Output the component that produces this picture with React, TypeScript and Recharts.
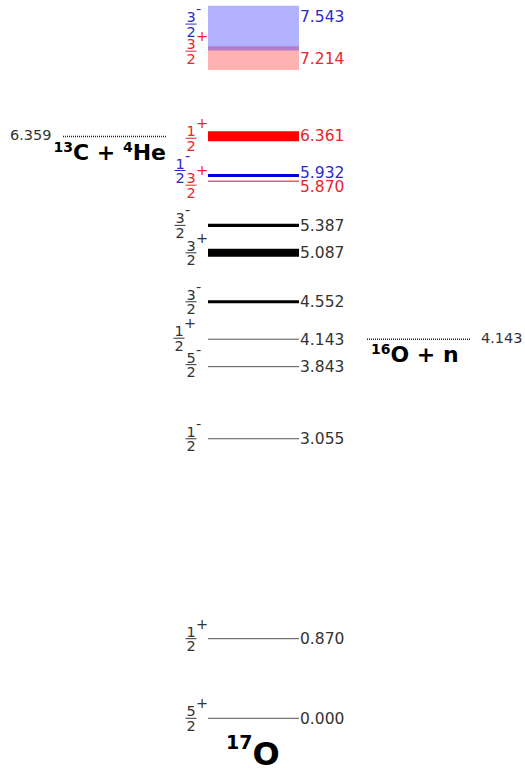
import React from "react";
import { ComposedChart, XAxis, YAxis, ReferenceArea, ReferenceLine, ReferenceDot } from "recharts";

// 17O levels (MeV), widths (MeV)
const energies = [0.0, 0.87, 3.055, 3.843, 4.143, 4.552, 5.087, 5.387, 5.87, 5.932, 6.361, 7.214, 7.543];
const widths = [0, 0, 0, 0, 0, 0.035, 0.088, 0.034, 0, 0.032, 0.11, 0.26, 0.49];
const spins = ["5/2", "1/2", "1/2", "5/2", "1/2", "3/2", "3/2", "3/2", "3/2", "1/2", "1/2", "3/2", "3/2"];
const parities = ["+", "+", "-", "-", "+", "-", "+", "-", "+", "-", "+", "+", "-"];

// particle thresholds
const thresholdEnergies = [6.359, 4.143];
const thresholdReactions = [
  [["13", "C"], ["4", "He"]],
  [["16", "O"], ["", "n"]],
];

const nucleus = ["17", "O"];

const W = 525;
const H = 772;
const FONT = "'DejaVu Sans', Verdana, sans-serif";
const LEVEL_X1 = 208;
const LEVEL_X2 = 299;

// style per level
const levelColors = ["#000", "#000", "#000", "#000", "#000", "#000", "#000", "#000", "#ff0000", "#0000dd", "#ff0000", "#ff0000", "#0000ff"];
const textColors = ["#333", "#333", "#333", "#333", "#333", "#333", "#333", "#333", "#e8262b", "#2b2bc8", "#e8262b", "#e8262b", "#2b2bc8"];
const spinX = [191, 191, 191, 191, 179, 191, 191, 180, 191, 180, 191, 191, 191];
const spinDy = [0, 0, 0, -2, -1, 0, 0, 0, 4, -5, 2, -7, -4];
const energyDy = [0, 0, 0, 0, 0, 0, 0, 0, 5, -3, -1, 0, -12];

function SpinLabel(props: any) {
  const { cx, cy, spin, parity, color } = props;
  const [num, den] = spin.split("/");
  return (
    <g fill={color} fontFamily={FONT} fontSize={14.5}>
      <text x={cx} y={cy - 2} textAnchor="middle">{num}</text>
      <line x1={cx - 5.5} x2={cx + 5.5} y1={cy} y2={cy} stroke={color} strokeWidth={1} />
      <text x={cx} y={cy + 12.5} textAnchor="middle">{den}</text>
      <text x={cx + 5} y={cy - 10}>{parity === "-" ? "-" : "+"}</text>
    </g>
  );
}

function EnergyLabel(props: any) {
  const { cx, cy, value, color, size } = props;
  return (
    <text x={cx} y={cy} dy="0.35em" fill={color} fontFamily={FONT} fontSize={size ?? 15.5}>
      {value}
    </text>
  );
}

function Reaction(props: any) {
  const { cx, cy, parts, anchor } = props;
  return (
    <text x={cx} y={cy} textAnchor={anchor} fontFamily={FONT} fontWeight="bold" fontSize={22} fill="#000" style={{ whiteSpace: "pre" }}>
      {parts.map((p: string[], i: number) => (
        <React.Fragment key={i}>
          {i > 0 && <tspan>{" + "}</tspan>}
          {p[0] && <tspan fontSize={14} dy={-8}>{p[0]}</tspan>}
          <tspan dy={p[0] ? 8 : 0}>{p[1]}</tspan>
        </React.Fragment>
      ))}
    </text>
  );
}

export default function App() {
  return (
    <div style={{ position: "absolute", left: 0, top: 0, width: W, height: H, background: "#fff" }}>
      <ComposedChart width={W} height={H} margin={{ top: 0, right: 0, bottom: 0, left: 0 }} data={[]}>
        <XAxis type="number" dataKey="x" domain={[0, W]} allowDataOverflow hide />
        <YAxis type="number" domain={[-0.587, 7.85]} allowDataOverflow hide />

        {/* levels: bands where the width shows, plain lines otherwise */}
        {energies.map((e, i) =>
          widths[i] > 0 ? (
            <ReferenceArea
              key={`a${i}`}
              x1={LEVEL_X1}
              x2={LEVEL_X2}
              y1={e - widths[i] / 2}
              y2={e + widths[i] / 2}
              fill={levelColors[i]}
              fillOpacity={widths[i] > 0.2 ? 0.3 : 1}
              stroke="none"
              ifOverflow="visible"
            />
          ) : (
            <ReferenceLine
              key={`l${i}`}
              segment={[{ x: LEVEL_X1, y: e }, { x: LEVEL_X2, y: e }]}
              stroke={i === 8 ? "#ff0000" : "#555"}
              strokeWidth={1}
              ifOverflow="visible"
            />
          )
        )}

        {energies.map((e, i) => (
          <ReferenceDot
            key={`s${i}`}
            x={spinX[i]}
            y={e}
            r={0}
            ifOverflow="visible"
            shape={(p: any) => (
              <SpinLabel cx={p.cx} cy={p.cy + spinDy[i]} spin={spins[i]} parity={parities[i]} color={textColors[i]} />
            )}
          />
        ))}

        {energies.map((e, i) => (
          <ReferenceDot
            key={`e${i}`}
            x={LEVEL_X2 + 1}
            y={e}
            r={0}
            ifOverflow="visible"
            shape={(p: any) => (
              <EnergyLabel cx={p.cx} cy={p.cy + energyDy[i]} value={e.toFixed(3)} color={textColors[i]} />
            )}
          />
        ))}

        {/* thresholds */}
        <ReferenceLine
          segment={[{ x: 63, y: thresholdEnergies[0] }, { x: 167, y: thresholdEnergies[0] }]}
          stroke="#222"
          strokeWidth={1.5}
          strokeDasharray="1 1"
        />
        <ReferenceDot
          x={10}
          y={thresholdEnergies[0]}
          r={0}
          shape={(p: any) => <EnergyLabel cx={p.cx} cy={p.cy - 2} value={thresholdEnergies[0].toFixed(3)} color="#333" size={14.5} />}
        />
        <ReferenceDot
          x={166}
          y={thresholdEnergies[0]}
          r={0}
          shape={(p: any) => <Reaction cx={p.cx} cy={p.cy + 24} parts={thresholdReactions[0]} anchor="end" />}
        />

        <ReferenceLine
          segment={[{ x: 367, y: thresholdEnergies[1] }, { x: 470, y: thresholdEnergies[1] }]}
          stroke="#222"
          strokeWidth={1.5}
          strokeDasharray="1 1"
        />
        <ReferenceDot
          x={481}
          y={thresholdEnergies[1]}
          r={0}
          shape={(p: any) => <EnergyLabel cx={p.cx} cy={p.cy - 1} value={thresholdEnergies[1].toFixed(3)} color="#333" size={14.5} />}
        />
        <ReferenceDot
          x={371}
          y={thresholdEnergies[1]}
          r={0}
          shape={(p: any) => <Reaction cx={p.cx} cy={p.cy + 23} parts={thresholdReactions[1]} anchor="start" />}
        />

        {/* nucleus name */}
        <ReferenceDot
          x={226}
          y={0}
          r={0}
          ifOverflow="visible"
          shape={(p: any) => (
            <text x={p.cx} y={p.cy + 47} fontFamily={FONT} fontWeight="bold" fill="#000">
              <tspan fontSize={19} dy={-16}>{nucleus[0]}</tspan>
              <tspan fontSize={32} dy={16}>{nucleus[1]}</tspan>
            </text>
          )}
        />
      </ComposedChart>
    </div>
  );
}
